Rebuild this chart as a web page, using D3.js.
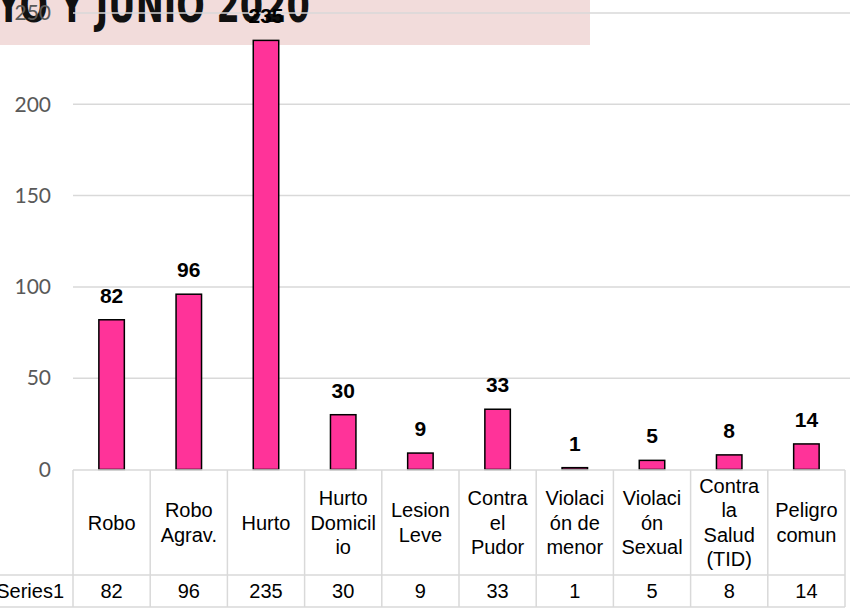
<!DOCTYPE html>
<html>
<head>
<meta charset="utf-8">
<script src="https://cdn.jsdelivr.net/npm/d3@7"></script>
<style>
  body { margin: 0; background: #fff; }
  svg { display: block; }
</style>
</head>
<body>
<div class="chart"></div>
<script>
// data
const categories = ['Robo', 'Robo\nAgrav.', 'Hurto', 'Hurto\nDomicil\nio', 'Lesion\nLeve',
  'Contra\nel\nPudor', 'Violaci\nón de\nmenor', 'Violaci\nón\nSexual', 'Contra\nla\nSalud\n(TID)', 'Peligro\ncomun'];
const values = [82, 96, 235, 30, 9, 33, 1, 5, 8, 14];
const seriesName = 'Series1';
const yTicks = [0, 50, 100, 150, 200, 250];
const titleText = 'ABRIL, MAYO Y JUNIO 2020';

const width = 850, height = 608;
const plot = {left: 73, right: 845, top: 13, bottom: 469.5};

const svg = d3.select('.chart').append('svg')
  .attr('width', width)
  .attr('height', height);

// title banner (cut off at the top)
svg.append('rect')
  .attr('x', 0).attr('y', 0)
  .attr('width', 590).attr('height', 45)
  .attr('fill', '#f2dcdb');
// squeeze horizontally to mimic the condensed title font
svg.append('text')
  .attr('transform', 'translate(310,22) scale(0.7,1)')
  .attr('text-anchor', 'end')
  .attr('font-family', 'DejaVu Sans, sans-serif')
  .attr('font-weight', 'bold')
  .attr('font-size', 48)
  .attr('fill', '#111')
  .text(titleText);

// scales
const x = d3.scaleBand()
  .domain(categories)
  .range([plot.left, plot.right])
  .paddingInner(0.67)
  .paddingOuter(0.335);

const y = d3.scaleLinear()
  .domain([0, 250])
  .range([plot.bottom, plot.top]);

// gridlines
svg.append('g')
  .selectAll('line')
  .data(yTicks.filter(d => d > 0))
  .join('line')
  .attr('x1', plot.left).attr('x2', width)
  .attr('y1', d => y(d)).attr('y2', d => y(d))
  .attr('stroke', '#d9d9d9')
  .attr('stroke-width', 1.5);

// y axis labels
const yAxis = d3.axisLeft(y).tickValues(yTicks).tickSize(0).tickPadding(0);
svg.append('g')
  .attr('transform', 'translate(51,0)')
  .call(yAxis)
  .call(g => g.select('.domain').remove())
  .selectAll('text')
  .attr('font-family', 'Lato, Open Sans, sans-serif')
  .attr('font-size', 21)
  .attr('fill', '#595959');

// bars
svg.append('g')
  .selectAll('rect')
  .data(values)
  .join('rect')
  .attr('x', (d, i) => x(categories[i]))
  .attr('y', d => y(d))
  .attr('width', x.bandwidth())
  .attr('height', d => y(0) - y(d))
  .attr('fill', '#ff3399')
  .attr('stroke', '#000')
  .attr('stroke-width', 1.5);

// value labels
svg.append('g')
  .selectAll('text')
  .data(values)
  .join('text')
  .attr('x', (d, i) => x(categories[i]) + x.bandwidth() / 2)
  .attr('y', d => y(d) - 17)
  .attr('text-anchor', 'middle')
  .attr('font-family', 'Liberation Sans, Arial, sans-serif')
  .attr('font-weight', 'bold')
  .attr('font-size', 21)
  .attr('fill', '#000')
  .text(d => d);

// data table under the axis
const step = x.step();
const tableTop = 470, rowSplit = 575, tableBottom = 607;
const grid = svg.append('g')
  .attr('stroke', '#d9d9d9')
  .attr('stroke-width', 1.5);
grid.append('line').attr('x1', plot.left).attr('x2', plot.right).attr('y1', tableTop).attr('y2', tableTop);
grid.append('line').attr('x1', 0).attr('x2', plot.right).attr('y1', rowSplit).attr('y2', rowSplit);
grid.append('line').attr('x1', 0).attr('x2', plot.right).attr('y1', tableBottom).attr('y2', tableBottom);
grid.selectAll('.vline')
  .data(d3.range(categories.length + 1))
  .join('line')
  .attr('x1', i => plot.left + i * step)
  .attr('x2', i => plot.left + i * step)
  .attr('y1', tableTop).attr('y2', tableBottom);

const tableFont = 'Liberation Sans, Arial, sans-serif';
const lineH = 24.5;
const catText = svg.append('g')
  .selectAll('text')
  .data(categories)
  .join('text')
  .attr('text-anchor', 'middle')
  .attr('font-family', tableFont)
  .attr('font-size', 20)
  .attr('fill', '#000');
catText.each(function(d) {
  const lines = d.split('\n');
  const cx = x(d) + x.bandwidth() / 2;
  const startY = (tableTop + rowSplit) / 2 - (lines.length - 1) * lineH / 2 + 7;
  d3.select(this).selectAll('tspan')
    .data(lines)
    .join('tspan')
    .attr('x', cx)
    .attr('y', (l, j) => startY + j * lineH)
    .text(l => l);
});

svg.append('g')
  .selectAll('text')
  .data(values)
  .join('text')
  .attr('x', (d, i) => x(categories[i]) + x.bandwidth() / 2)
  .attr('y', 598)
  .attr('text-anchor', 'middle')
  .attr('font-family', tableFont)
  .attr('font-size', 20)
  .attr('fill', '#000')
  .text(d => d);

svg.append('text')
  .attr('x', 64).attr('y', 598)
  .attr('text-anchor', 'end')
  .attr('font-family', tableFont)
  .attr('font-size', 20)
  .attr('fill', '#000')
  .text(seriesName);
</script>
</body>
</html>
